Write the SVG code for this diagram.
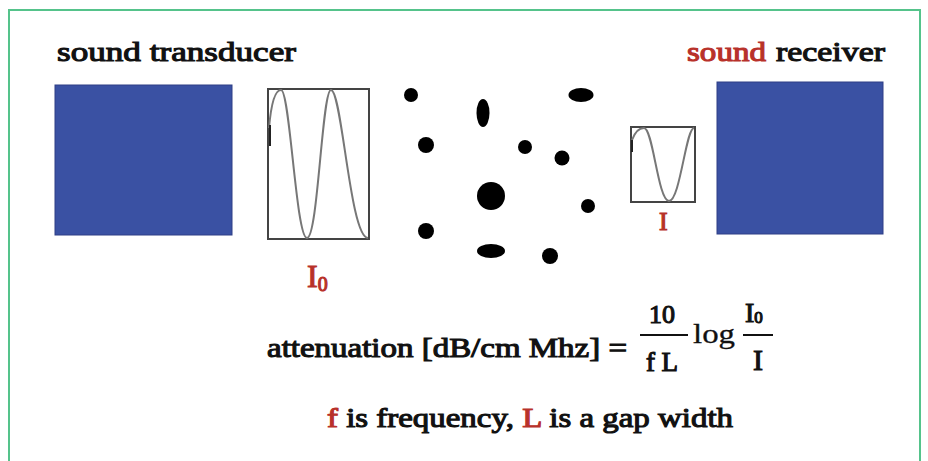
<svg xmlns="http://www.w3.org/2000/svg" width="928" height="461" viewBox="0 0 928 461">
<style>
.t{font-family:'Liberation Serif','Times New Roman',serif;font-weight:normal;fill:#111;stroke:#111;stroke-width:1.1;paint-order:stroke}
.r{fill:#b8312a;stroke:#b8312a}
.blk{fill:#3a51a3;stroke:#2e3f86;stroke-width:1}
.box{fill:none;stroke:#444;stroke-width:2}
.wave{fill:none;stroke:#777;stroke-width:2}
.dot{fill:#000}
</style>
<rect width="928" height="461" fill="#ffffff"/>
<path d="M9,461 V10 H920 V461" fill="none" stroke="#55c38b" stroke-width="2"/>
<g id="transducer">
<text class="t" x="57" y="61" font-size="28" textLength="239" lengthAdjust="spacingAndGlyphs">sound  transducer</text>
<rect class="blk" x="55" y="85" width="177" height="150"/>
</g>
<g id="receiver">
<text class="t r" x="687" y="61" font-size="28" textLength="79" lengthAdjust="spacingAndGlyphs">sound</text>
<text class="t" x="776" y="61" font-size="28" textLength="109" lengthAdjust="spacingAndGlyphs">receiver</text>
<rect class="blk" x="717" y="82" width="166" height="152"/>
</g>
<g id="wave-in">
<rect class="box" x="268" y="89" width="101" height="150"/>
<path class="wave" d="M269,128 C271,105 275,90 281,90 C290,90 296,238 307,238 C318,238 322,90 331,90 C342,90 350,238 368,238"/>
<line x1="270" y1="125" x2="270" y2="146" stroke="#222" stroke-width="2"/>
<text class="t r" x="307" y="287" font-size="32">I<tspan font-size="20" dy="4">0</tspan></text>
</g>
<g id="wave-out">
<rect class="box" x="631" y="127" width="64" height="75"/>
<path class="wave" d="M632,140 C635,132 639,128 644,128 C653,128 658,201 669,201 C680,201 686,128 694,128"/>
<line x1="632" y1="140" x2="632" y2="152" stroke="#222" stroke-width="2"/>
<text class="t r" x="659" y="230" font-size="26">I</text>
</g>
<g id="scatterers">
<circle class="dot" cx="411" cy="95" r="7"/>
<ellipse class="dot" cx="483" cy="113" rx="6.5" ry="14"/>
<ellipse class="dot" cx="581" cy="95" rx="12.5" ry="7"/>
<circle class="dot" cx="426" cy="145" r="8"/>
<circle class="dot" cx="525" cy="147" r="7"/>
<circle class="dot" cx="562" cy="158" r="7.5"/>
<circle class="dot" cx="491" cy="196" r="14"/>
<circle class="dot" cx="588" cy="206" r="7"/>
<circle class="dot" cx="426" cy="231" r="8"/>
<ellipse class="dot" cx="491" cy="251" rx="14" ry="7"/>
<circle class="dot" cx="550" cy="256" r="8"/>
</g>
<g id="formula">
<text class="t" x="267" y="357" font-size="28" textLength="360" lengthAdjust="spacingAndGlyphs">attenuation [dB/cm Mhz] =</text>
<text class="t" x="662" y="323" font-size="26" text-anchor="middle">10</text>
<line x1="640" y1="335" x2="688" y2="335" stroke="#111" stroke-width="2"/>
<text class="t" x="662" y="371" font-size="27" text-anchor="middle">f L</text>
<text class="t" x="693" y="343" font-size="27" style="stroke-width:0.3" textLength="42" lengthAdjust="spacingAndGlyphs">log</text>
<text class="t" x="745" y="322" font-size="28">I<tspan font-size="17" dy="1">0</tspan></text>
<line x1="743" y1="335" x2="773" y2="335" stroke="#111" stroke-width="2"/>
<text class="t" x="753" y="370" font-size="30">I</text>
</g>
<g id="note">
<text class="t" x="327" y="427" font-size="28" textLength="406" lengthAdjust="spacingAndGlyphs"><tspan class="r">f</tspan> is frequency, <tspan class="r">L</tspan> is a gap width</text>
</g>
</svg>
